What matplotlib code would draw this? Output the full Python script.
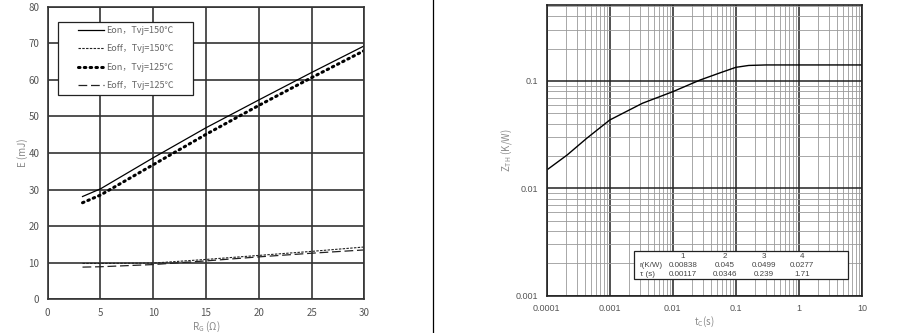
#!/usr/bin/env python3
"""Switching energy vs gate resistance, and transient thermal impedance."""

import matplotlib

matplotlib.use("Agg")
import matplotlib.pyplot as plt
from matplotlib.lines import Line2D
from matplotlib.patches import Rectangle
from matplotlib.ticker import FixedLocator, LogLocator, NullFormatter

plt.rcParams["font.family"] = ["Noto Sans CJK SC", "DejaVu Sans"]

# Left panel: E vs RG
rg = [3.3, 5, 10, 15, 20, 25, 30]
eon_150 = [28.1, 30.2, 38.7, 46.9, 54.5, 62.0, 69.3]
eoff_150 = [9.8, 9.8, 9.9, 10.9, 12.0, 13.1, 14.3]
eon_125 = [26.4, 28.5, 36.8, 45.1, 53.0, 60.6, 68.0]
eoff_125 = [8.8, 8.9, 9.5, 10.5, 11.6, 12.6, 13.5]
labels = ["Eon，Tvj=150℃", "Eoff，Tvj=150℃", "Eon，Tvj=125℃", "Eoff，Tvj=125℃"]

# Right panel: Zth vs t
t = [1e-4, 2.1e-4, 4.3e-4, 1e-3, 3.3e-3, 1e-2, 2.7e-2, 5.6e-2, 0.1, 0.16, 0.3, 1, 10]
zth = [0.0148, 0.0204, 0.0292, 0.0433, 0.062, 0.0795, 0.102, 0.119, 0.134,
       0.1395, 0.141, 0.141, 0.141]
tbl_head = ["1", "2", "3", "4"]
tbl_r = ["0.00838", "0.045", "0.0499", "0.0277"]
tbl_tau = ["0.00117", "0.0346", "0.239", "1.71"]

W, H = 912, 333
fig = plt.figure(figsize=(W / 100, H / 100), dpi=100)


def fx(px):
    return px / W


def fy(py):
    return 1 - py / H


tick_c = "#555555"
lab_c = "#8a8a8a"

# ---- left ----
ax1 = fig.add_axes([fx(47.7), fy(299.3), fx(364.3 - 47.7), (299.3 - 6.7) / H])
ax1.plot(rg, eon_150, color="black", lw=0.9, label=labels[0])
ax1.plot(rg, eoff_150, color="#222222", lw=0.8, ls=(0, (2.2, 1.2)), label=labels[1])
ax1.plot(rg, eon_125, color="black", lw=2.2, ls=(0, (0.5, 1.4)),
         dash_capstyle="round", label=labels[2])
ax1.plot(rg, eoff_125, color="#222222", lw=0.9, ls=(0, (7, 3)), label=labels[3])
ax1.set_xlim(0, 30)
ax1.set_ylim(0, 80)
ax1.set_xticks(range(0, 31, 5))
ax1.set_yticks(range(0, 81, 10))
ax1.grid(True, color="#333333", lw=1.2)
ax1.set_axisbelow(True)
ax1.tick_params(length=0, labelsize=7, colors=tick_c, pad=6)
for s in ax1.spines.values():
    s.set_color("#333333")
    s.set_linewidth(1.2)
ax1.set_xlabel("R$_\\mathregular{G}$ (Ω)", fontsize=7, color=lab_c, labelpad=1.5)
ax1.set_ylabel("E (mJ)", fontsize=7, color=lab_c, labelpad=0)

ax1.add_patch(Rectangle((0.0316, 0.698), 0.4284, 0.2507, transform=ax1.transAxes,
                        facecolor="white", edgecolor="#222222", lw=0.9, zorder=4))
leg = ax1.legend(loc="upper left", bbox_to_anchor=(0.095, 0.935), frameon=False,
                 fontsize=6.5, handlelength=2.9, handletextpad=0.2,
                 labelspacing=1.05, borderpad=0, borderaxespad=0)
leg.set_zorder(5)
for txt in leg.get_texts():
    txt.set_color("#666666")

# separator
fig.add_artist(Line2D([fx(433), fx(433)], [0, 1], color="black", lw=0.9))

# ---- right ----
ax2 = fig.add_axes([fx(546.7), fy(295.7), fx(862 - 546.7), (295.7 - 5) / H])
ax2.set_xscale("log")
ax2.set_yscale("log")
ax2.plot(t, zth, color="black", lw=1.0)
ax2.set_xlim(1e-4, 10)
ax2.set_ylim(1e-3, 0.51)
ax2.xaxis.set_major_locator(FixedLocator([1e-4, 1e-3, 1e-2, 1e-1, 1, 10]))
ax2.yaxis.set_major_locator(FixedLocator([1e-3, 1e-2, 1e-1]))
ax2.set_xticklabels(["0.0001", "0.001", "0.01", "0.1", "1", "10"])
ax2.set_yticklabels(["0.001", "0.01", "0.1"])
ax2.xaxis.set_minor_locator(LogLocator(base=10, subs=range(2, 10), numticks=20))
ax2.yaxis.set_minor_locator(LogLocator(base=10, subs=range(2, 10), numticks=20))
ax2.xaxis.set_minor_formatter(NullFormatter())
ax2.yaxis.set_minor_formatter(NullFormatter())
ax2.grid(True, which="major", color="#222222", lw=1.1)
ax2.grid(True, which="minor", color="#9a9a9a", lw=0.6)
ax2.set_axisbelow(True)
ax2.tick_params(which="both", length=0, labelsize=6.5, colors=tick_c, pad=6)
for lab in ax2.get_xticklabels() + ax2.get_yticklabels():
    lab.set_family(["Liberation Sans", "DejaVu Sans"])
for s in ax2.spines.values():
    s.set_color("#222222")
    s.set_linewidth(1.2)
ax2.set_xlabel("t$_\\mathregular{C}$(s)", fontsize=7, color=lab_c, labelpad=1.5)
ax2.set_ylabel("Z$_\\mathregular{TH}$ (K/W)", fontsize=7, color=lab_c, labelpad=1.5)

# thermal table
fig.add_artist(Rectangle((fx(634), fy(279.3)), fx(848 - 634), (279.3 - 251) / H,
                         facecolor="white", edgecolor="#222222", lw=0.9, zorder=4))
col_x = [683, 725, 764, 802]
tfont = dict(fontsize=5.8, color="#444444", ha="center", va="center",
             family=["Liberation Sans", "DejaVu Sans"], zorder=5)
fig.text(fx(640), fy(265.3), "r(K/W)", **{**tfont, "ha": "left"})
fig.text(fx(640), fy(274.3), "τ (s)", **{**tfont, "ha": "left"})
for i, cx in enumerate(col_x):
    fig.text(fx(cx), fy(256), tbl_head[i], **tfont)
    fig.text(fx(cx), fy(265.3), tbl_r[i], **tfont)
    fig.text(fx(cx), fy(274.3), tbl_tau[i], **tfont)

fig.savefig("out.png", dpi=100)
